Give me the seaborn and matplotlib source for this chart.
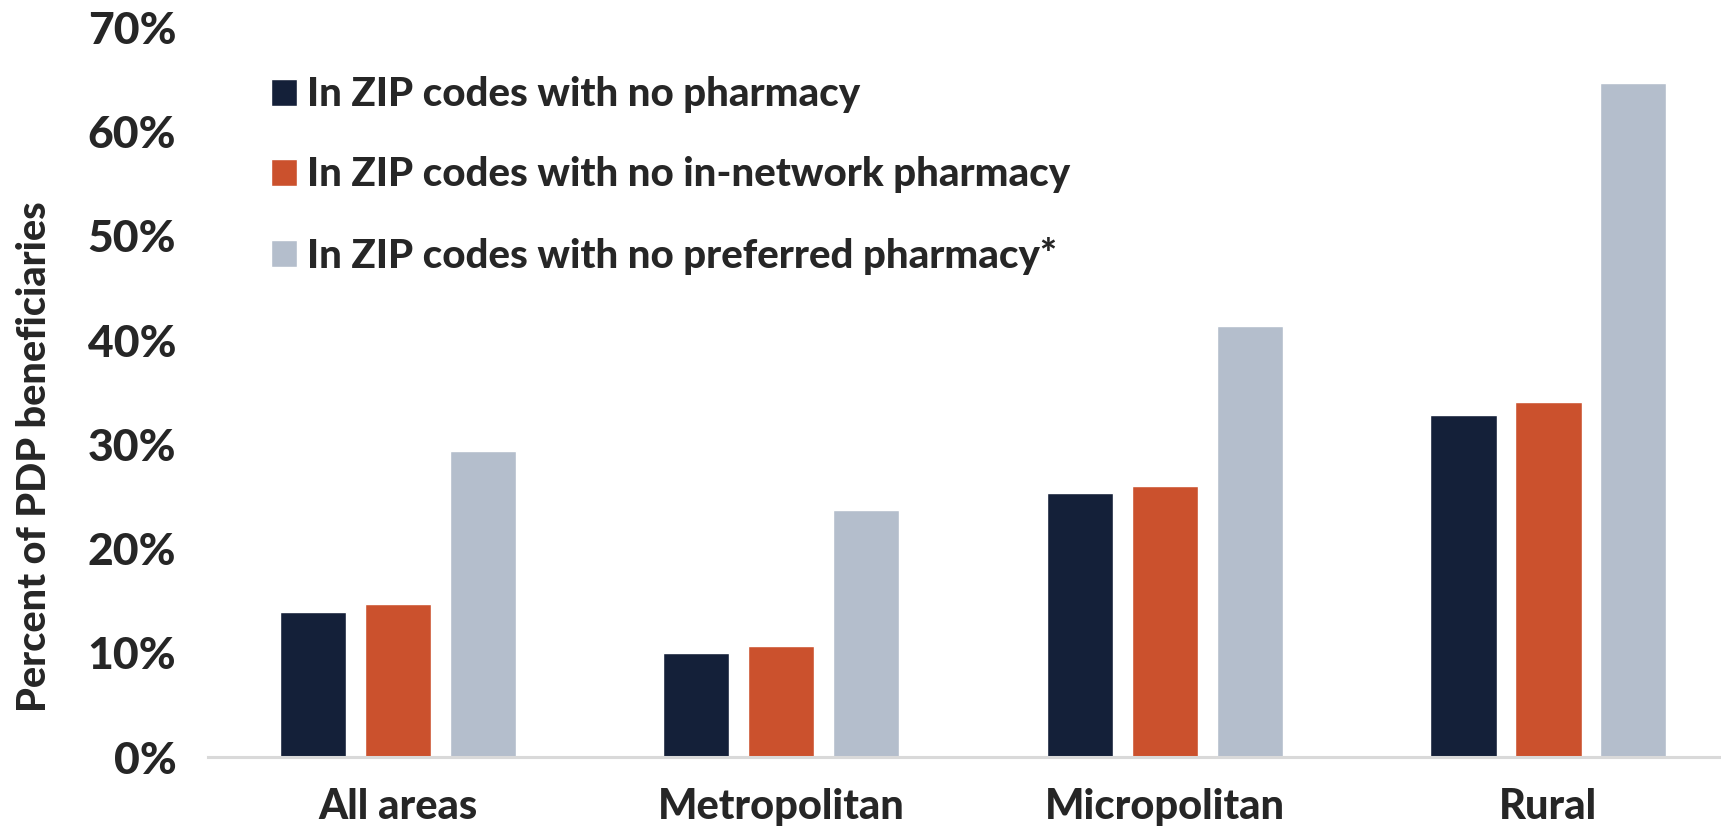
import matplotlib
matplotlib.use("Agg")
import matplotlib.pyplot as plt
import seaborn as sns
import pandas as pd
from matplotlib.ticker import FuncFormatter

categories = ["All areas", "Metropolitan", "Micropolitan", "Rural"]
series_names = [
    "In ZIP codes with no pharmacy",
    "In ZIP codes with no in-network pharmacy",
    "In ZIP codes with no preferred pharmacy*",
]
no_pharmacy = [13.9, 10.0, 25.3, 32.8]
no_in_network = [14.7, 10.7, 26.0, 34.1]
no_preferred = [29.4, 23.7, 41.4, 64.7]
y_ticks = [0, 10, 20, 30, 40, 50, 60, 70]
colors = ["#142039", "#CB512D", "#B4BECC"]

rows = []
for name, vals in zip(series_names, [no_pharmacy, no_in_network, no_preferred]):
    for c, v in zip(categories, vals):
        rows.append({"Area": c, "Series": name, "Value": v})
df = pd.DataFrame(rows)

sns.set_theme(style="white")
plt.rcParams["font.family"] = ["Lato", "DejaVu Sans"]
W = "black"

fig = plt.figure(figsize=(17.21, 8.26), dpi=100)
ax = fig.add_axes([0.121, 0.0835, 0.879, 0.8833])

sns.barplot(data=df, x="Area", y="Value", hue="Series", order=categories,
            hue_order=series_names, palette=colors, width=0.664, gap=0.22,
            saturation=1, ax=ax, errorbar=None)

ax.set_ylim(0, 70)
ax.set_xlim(-0.494, 3.45)
ax.set_yticks(y_ticks)
ax.yaxis.set_major_formatter(FuncFormatter(lambda v, p: f"{int(v)}%"))
for s in ["top", "right", "left"]:
    ax.spines[s].set_visible(False)
ax.spines["bottom"].set_color("#D9D9D9")
ax.spines["bottom"].set_linewidth(2.2)
ax.tick_params(axis="y", labelsize=32, length=0, pad=23)
ax.tick_params(axis="x", labelsize=30, length=0, pad=22)
for t in ax.get_yticklabels() + ax.get_xticklabels():
    t.set_fontweight(W)
ax.set_xlabel("")
ax.set_ylabel("Percent of PDP beneficiaries", fontsize=28.5, fontweight=W)
ax.yaxis.set_label_coords(-0.1025, 0.411)

handles, labels = ax.get_legend_handles_labels()
ax.legend(handles, labels, loc="upper left", bbox_to_anchor=(0.031, 0.955),
          frameon=False, handlelength=0.65, handleheight=0.65,
          handletextpad=0.25, labelspacing=1.07, borderaxespad=0,
          prop={"weight": W, "size": 29})

fig.savefig("out.png", dpi=100)
